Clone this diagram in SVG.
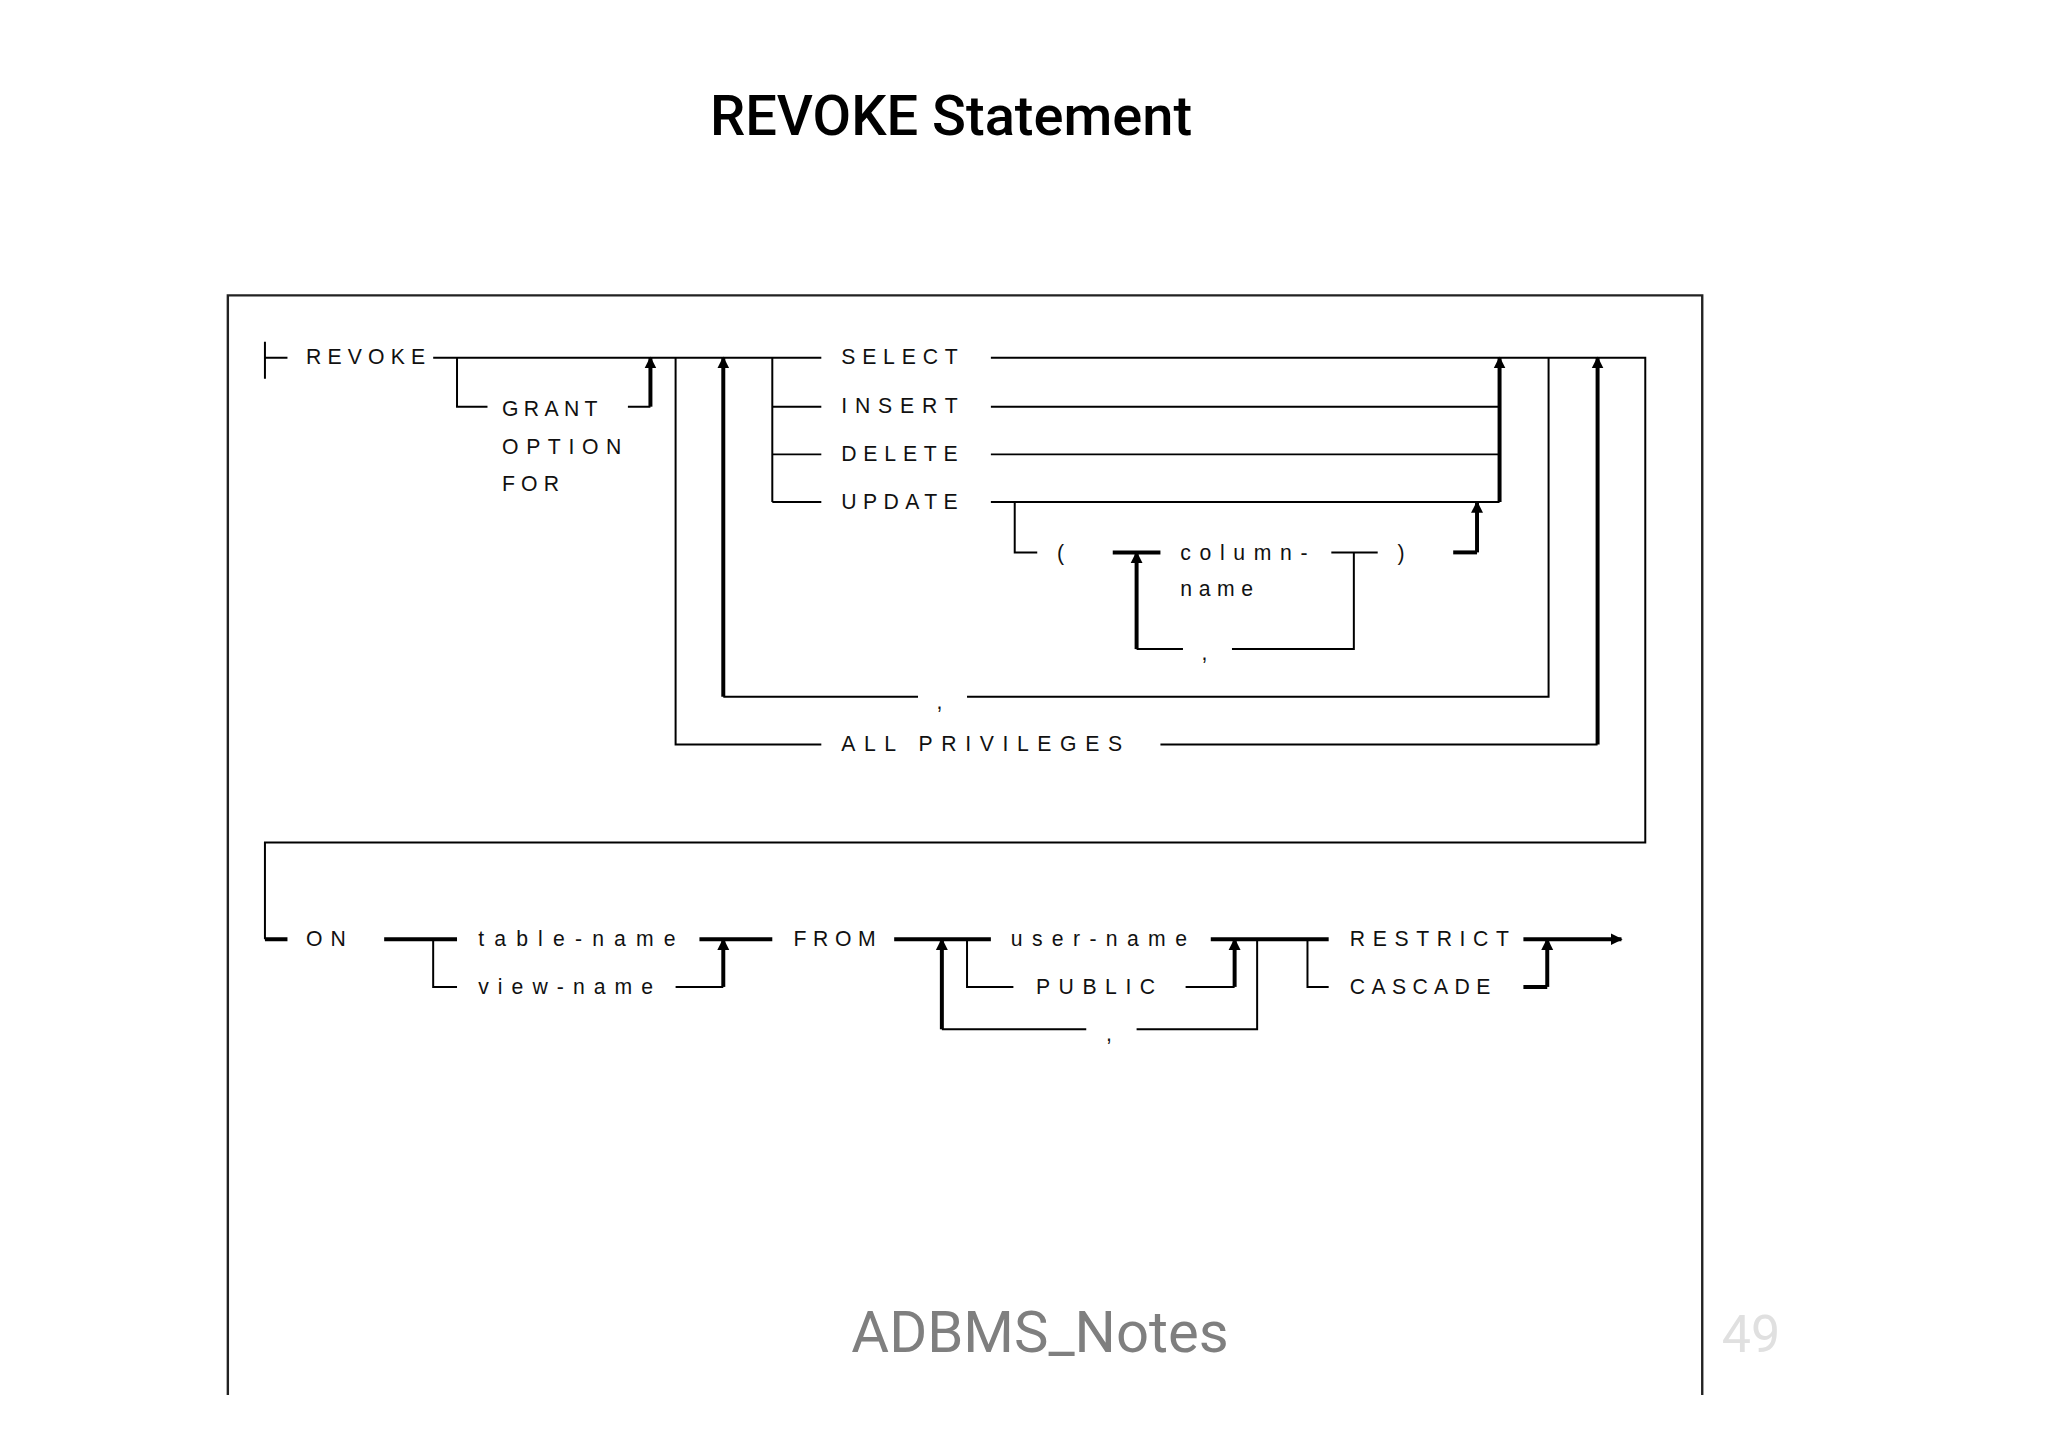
<svg xmlns="http://www.w3.org/2000/svg" width="2048" height="1447" viewBox="0 0 2048 1447">
<defs>
<marker id="ah" viewBox="0 0 10 10" refX="9" refY="5" markerWidth="3" markerHeight="3.5" orient="auto" markerUnits="strokeWidth"><path d="M0,0 L10,5 L0,10 z" fill="#000"/></marker>
</defs>
<style>
.t{stroke:#000;stroke-width:1.5;fill:none}
.k{stroke:#000;stroke-width:3;fill:none}
.a{marker-end:url(#ah)}
text.d{font-family:"Liberation Sans",Arial,sans-serif;font-size:16px;fill:#111}
</style>
<rect width="2048" height="1447" fill="#fff"/>
<text x="951" y="135" text-anchor="middle" font-family="Roboto,'Liberation Sans',sans-serif" font-size="56" font-weight="500" fill="#000">REVOKE Statement</text>
<text x="1040" y="1352" text-anchor="middle" font-family="Roboto,'Liberation Sans',sans-serif" font-size="58" fill="#7f7f7f">ADBMS_Notes</text>
<text x="1751" y="1352" text-anchor="middle" font-family="Roboto,'Liberation Sans',sans-serif" font-size="52" fill="#e0e0e0">49</text>
<g transform="scale(1.3247)">
<path id="frame" d="M172,1053 V223 H1285 V1053" stroke="#222" stroke-width="1.8" fill="none"/>
<g id="connectors">
<path class="t" d="M200,258 V286 M200,270 H217 M327,270 H620"/>
<path class="t" d="M345,270 V307 H368 M474,307 H491"/>
<path class="k a" d="M491,307 V270"/>
<path class="t" d="M510,270 V562 H620 M876,562 H1206"/>
<path class="k a" d="M1206,562 V270"/>
<path class="t" d="M546,526 H693 M730,526 H1169 V270"/>
<path class="k a" d="M546,526 V270"/>
<path class="t" d="M583,270 V379 M583,307 H620 M583,343 H620 M583,379 H620"/>
<path class="t" d="M748,270 H1132 M748,307 H1132 M748,343 H1132 M748,379 H1132"/>
<path class="k a" d="M1132,379 V270"/>
<path class="t" d="M766,379 V417 H783 M858,490 H893 M930,490 H1022 V417 H1005 M1040,417 H1005"/>
<path class="k" d="M840,417 H876"/>
<path class="k a" d="M858,490 V417"/>
<path class="k" d="M1097,417 H1115"/>
<path class="k a" d="M1115,417 V379"/>
<path class="t" d="M1132,270 H1242 V636 H200 V709"/>
<path class="k" d="M200,709 H217 M290,709 H345 M528,709 H583 M675,709 H748 M914,709 H1003 M1150,745 H1168"/>
<path class="t" d="M327,709 V745 H345 M510,745 H546 M730,709 V745 H765 M895,745 H932 M949,709 V777 H858 M820,777 H711 M987,709 V745 H1003"/>
<path class="k a" d="M546,745 V709"/>
<path class="k a" d="M711,777 V709"/>
<path class="k a" d="M932,745 V709"/>
<path class="k a" d="M1168,745 V709"/>
<path class="k a" d="M1150,709 H1224"/>
</g>
<g id="labels">
<text class="d" x="231" y="275" textLength="90" lengthAdjust="spacing">REVOKE</text>
<text class="d" x="379" y="314" textLength="72" lengthAdjust="spacing">GRANT</text>
<text class="d" x="379" y="343" textLength="90" lengthAdjust="spacing">OPTION</text>
<text class="d" x="379" y="371" textLength="43" lengthAdjust="spacing">FOR</text>
<text class="d" x="635" y="275" textLength="88" lengthAdjust="spacing">SELECT</text>
<text class="d" x="635" y="312" textLength="88" lengthAdjust="spacing">INSERT</text>
<text class="d" x="635" y="348" textLength="88" lengthAdjust="spacing">DELETE</text>
<text class="d" x="635" y="384" textLength="88" lengthAdjust="spacing">UPDATE</text>
<text class="d" x="798" y="423">(</text>
<text class="d" x="891" y="423" textLength="96" lengthAdjust="spacing">column-</text>
<text class="d" x="891" y="450" textLength="55" lengthAdjust="spacing">name</text>
<text class="d" x="1055" y="423">)</text>
<text class="d" x="907" y="498">,</text>
<text class="d" x="707" y="535">,</text>
<text class="d" x="635" y="567" textLength="212" lengthAdjust="spacing">ALL PRIVILEGES</text>
<text class="d" x="231" y="714" textLength="30" lengthAdjust="spacing">ON</text>
<text class="d" x="361" y="714" textLength="149" lengthAdjust="spacing">table-name</text>
<text class="d" x="361" y="750" textLength="132" lengthAdjust="spacing">view-name</text>
<text class="d" x="599" y="714" textLength="62" lengthAdjust="spacing">FROM</text>
<text class="d" x="763" y="714" textLength="133" lengthAdjust="spacing">user-name</text>
<text class="d" x="782" y="750" textLength="90" lengthAdjust="spacing">PUBLIC</text>
<text class="d" x="835" y="786">,</text>
<text class="d" x="1019" y="714" textLength="120" lengthAdjust="spacing">RESTRICT</text>
<text class="d" x="1019" y="750" textLength="106" lengthAdjust="spacing">CASCADE</text>
</g>
</g>
</svg>
